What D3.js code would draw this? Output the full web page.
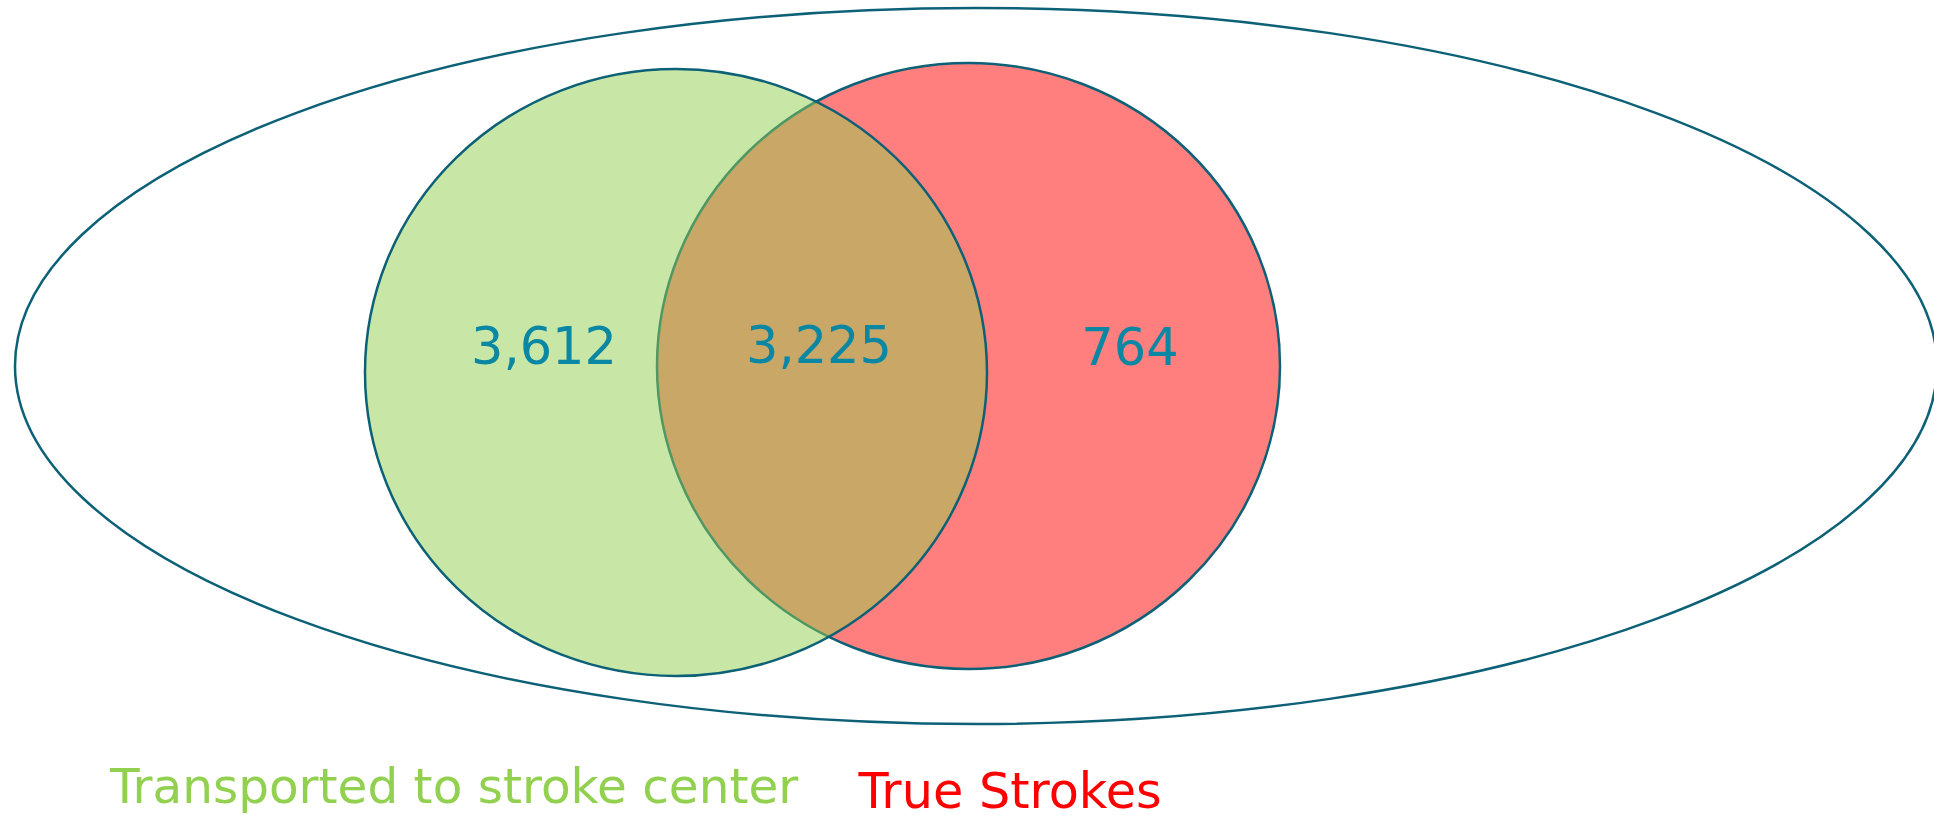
<!DOCTYPE html>
<html>
<head>
<meta charset="utf-8">
<script src="https://cdn.jsdelivr.net/npm/d3@7"></script>
<style>
  html, body { margin: 0; padding: 0; background: #fff; overflow: hidden; }
</style>
</head>
<body>
<div id="div_venn"></div>
<script>
// set names and counts
var setNames = ["Transported to stroke center", "True Strokes"];
var setColors = ["#92d050", "#ff0000"];
var regionKeys = ["transportedOnly", "both", "trueOnly"];
var regionValues = [3612, 3225, 764];

var width_chart = 1934;
var height_chart = 815;

const svg_venn = d3.select('#div_venn').append("svg")
    .attr("width", width_chart)
    .attr("height", height_chart);

// layout in pixels, from the reference
var x = d3.scaleLinear().domain([0, 1]).range([0, width_chart]),
    y = d3.scaleLinear().domain([0, 1]).range([0, height_chart]);

var outer = {cx: 976 / width_chart, cy: 366 / height_chart, rx: 961, ry: 358};
var circles = [
    {cx: 676 / width_chart, cy: 372.5 / height_chart, rx: 311, ry: 303.5},
    {cx: 968.5 / width_chart, cy: 366 / height_chart, rx: 311.5, ry: 303}
];
var labelPos = [
    {x: 544 / width_chart, y: 364 / height_chart},
    {x: 819 / width_chart, y: 363 / height_chart},
    {x: 1130 / width_chart, y: 365 / height_chart}
];
var legendPos = [
    {x: 110 / width_chart, y: 803 / height_chart, size: 48.5},
    {x: 858.5 / width_chart, y: 808 / height_chart, size: 49.3}
];

var strokeColor = "#0d6177";
var fmt = d3.format(",");

svg_venn.append("ellipse")
    .attr("cx", x(outer.cx))
    .attr("cy", y(outer.cy))
    .attr("rx", outer.rx)
    .attr("ry", outer.ry)
    .style("fill", "none")
    .style("stroke", strokeColor)
    .style("stroke-width", "2.5px");

var sets = setNames.map(function (name, i) {
    return {name: name, color: setColors[i], geo: circles[i]};
});

// True Strokes first so the green one sits on top
svg_venn.selectAll(".set")
    .data(sets.slice().reverse())
    .enter().append("ellipse")
    .attr("class", "set")
    .attr("cx", function (d) { return x(d.geo.cx); })
    .attr("cy", function (d) { return y(d.geo.cy); })
    .attr("rx", function (d) { return d.geo.rx; })
    .attr("ry", function (d) { return d.geo.ry; })
    .style("fill", function (d) { return d.color; })
    .style("fill-opacity", 0.5)
    .style("stroke", strokeColor)
    .style("stroke-width", "2.5px");

svg_venn.selectAll(".region-label")
    .data(regionKeys.map(function (k, i) {
        return {key: k, value: regionValues[i], pos: labelPos[i]};
    }))
    .enter().append("text")
    .attr("class", "region-label")
    .attr("x", function (d) { return x(d.pos.x); })
    .attr("y", function (d) { return y(d.pos.y); })
    .attr("text-anchor", "middle")
    .style("font-family", "'DejaVu Sans', Verdana, sans-serif")
    .style("font-size", "51px")
    .style("fill", "#0a87a2")
    .text(function (d) { return fmt(d.value); });

svg_venn.selectAll(".legend")
    .data(sets)
    .enter().append("text")
    .attr("class", "legend")
    .attr("x", function (d, i) { return x(legendPos[i].x); })
    .attr("y", function (d, i) { return y(legendPos[i].y); })
    .style("font-family", "'DejaVu Sans', Verdana, sans-serif")
    .style("font-size", function (d, i) { return legendPos[i].size + "px"; })
    .style("fill", function (d) { return d.color; })
    .text(function (d) { return d.name; });
</script>
</body>
</html>
